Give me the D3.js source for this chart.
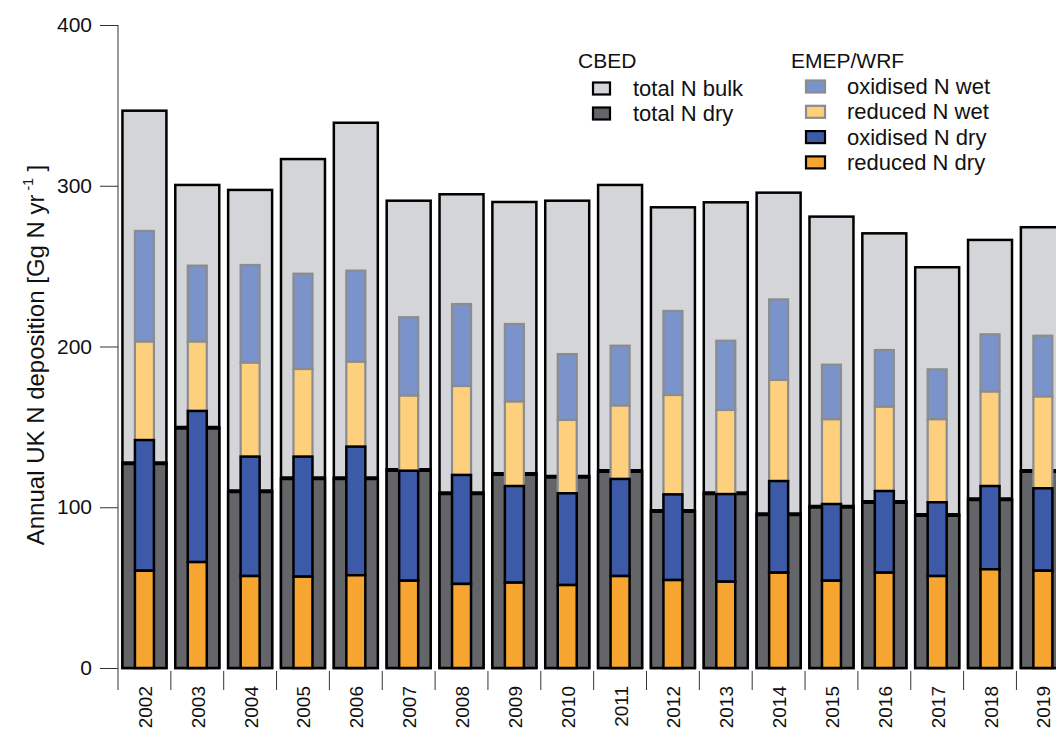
<!DOCTYPE html>
<html>
<head>
<meta charset="utf-8">
<script src="https://cdn.jsdelivr.net/npm/d3@7/dist/d3.min.js"></script>
<style>
  html, body { margin: 0; padding: 0; background: #fff; }
  svg { display: block; font-family: "Liberation Sans", Arial, sans-serif; }
</style>
</head>
<body>
<svg id="chart" width="1056" height="729"></svg>
<script>
// ---- data ----
const years = ["2002","2003","2004","2005","2006","2007","2008","2009","2010","2011","2012","2013","2014","2015","2016","2017","2018","2019"];
// CBED
const cbedBulk = [346.7,300.5,297.4,316.6,339.2,290.7,294.7,289.9,290.7,300.5,286.6,289.7,295.7,280.8,270.4,249.3,266.3,274.2];
const cbedDry  = [127.3,149.5,109.9,118.0,118.0,123.2,108.7,120.7,119.0,122.5,97.7,108.7,95.6,100.3,103.3,95.2,104.9,122.5];
// EMEP/WRF components (stacked bottom to top)
const reducedDry  = [60.5,65.9,57.2,56.8,57.7,54.3,52.3,53.1,51.6,57.2,54.7,53.7,59.3,54.3,59.3,57.2,61.4,60.5];
const oxidisedDry = [81.3,94.0,74.3,74.7,80.0,68.4,67.8,60.1,57.1,60.4,53.3,54.5,57.0,47.7,50.8,45.9,51.8,51.3];
const reducedWet  = [61.2,43.1,58.4,54.5,52.8,46.7,55.3,52.5,45.6,45.6,61.8,52.3,62.9,52.7,52.4,51.6,58.7,57.0];
const oxidisedWet = [68.9,47.3,60.8,59.3,56.7,48.8,51.0,48.3,41.0,37.3,52.3,43.1,50.1,34.0,35.3,31.1,35.7,37.9];
const yTicks = [0,100,200,300,400];
const cbedLabels = ["total N bulk","total N dry"];
const emepLabels = ["oxidised N wet","reduced N wet","oxidised N dry","reduced N dry"];

// ---- styles ----
const C = {
  bulk: "#d3d5d8", dry: "#646569",
  rDry: "#f6a630", oDry: "#3c5aa8", rWet: "#fed07e", oWet: "#7b93cb",
  wetStroke: "#8c8c8c"
};

const svg = d3.select("#chart");
const y = d3.scaleLinear().domain([0,400]).range([668,25]);
const x = d3.scaleBand().domain(years).range([118, 118 + 18*52.85]).paddingInner(0.13).paddingOuter(0.065);

const rows = years.map((yr,i) => ({
  year: yr, bulk: cbedBulk[i], dry: cbedDry[i],
  rDry: reducedDry[i], oDry: oxidisedDry[i], rWet: reducedWet[i], oWet: oxidisedWet[i]
}));

// y axis
const yAxis = d3.axisLeft(y).tickValues(yTicks).tickSize(18).tickPadding(8).tickSizeOuter(0);
const ya = svg.append("g").attr("transform","translate(118,0)").call(yAxis);
ya.select(".domain").remove();
ya.selectAll(".tick line").attr("stroke","#333").attr("stroke-width",1);
ya.selectAll(".tick text").attr("font-size",21).attr("fill","#111").attr("font-family","Liberation Sans, Arial, sans-serif");
svg.append("line").attr("x1",118).attr("x2",118).attr("y1",y(400)).attr("y2",690).attr("stroke","#333").attr("stroke-width",1);

// x ticks at band boundaries
const step = x.step();
const bounds = years.map((yr) => x(yr) - x.paddingInner()*step/2 + step);
svg.append("g").selectAll("line").data(bounds).join("line")
  .attr("x1", d=>d).attr("x2", d=>d).attr("y1", 671).attr("y2", 690)
  .attr("stroke","#333").attr("stroke-width",1);
svg.append("g").selectAll("text").data(years).join("text")
  .attr("transform", d => `translate(${x(d)+x.bandwidth()/2+7.5},686) rotate(-90)`)
  .attr("text-anchor","end").attr("font-size",19).attr("fill","#111").text(d=>d);

// y title
const yt = svg.append("text").attr("transform","translate(44,355) rotate(-90)")
  .attr("text-anchor","middle").attr("font-size",24).attr("fill","#111");
yt.append("tspan").text("Annual UK N deposition [Gg N yr");
yt.append("tspan").attr("font-size",14).attr("dy",-11).text(" -1");
yt.append("tspan").attr("dy",11).text(" ]");

// bars
const g = svg.append("g");
const bw = x.bandwidth();
// bulk
g.selectAll("rect.bulk").data(rows).join("rect").attr("class","bulk")
  .attr("x", d=>x(d.year)+1).attr("width", bw-2)
  .attr("y", d=>y(d.bulk)).attr("height", d=>y(0)-y(d.bulk))
  .attr("fill",C.bulk).attr("stroke","#000").attr("stroke-width",2.5);
// dry
g.selectAll("rect.dry").data(rows).join("rect").attr("class","dry")
  .attr("x", d=>x(d.year)+1).attr("width", bw-2)
  .attr("y", d=>y(d.dry)).attr("height", d=>y(0)-y(d.dry))
  .attr("fill",C.dry).attr("stroke","#000").attr("stroke-width",2.5);
g.selectAll("line.drytop").data(rows).join("line").attr("class","drytop")
  .attr("x1", d=>x(d.year)).attr("x2", d=>x(d.year)+bw)
  .attr("y1", d=>y(d.dry)).attr("y2", d=>y(d.dry))
  .attr("stroke","#000").attr("stroke-width",4);

// EMEP stack
const keys = ["rDry","oDry","rWet","oWet"];
const stack = d3.stack().keys(keys)(rows);
const iw = 19;
const fills = {rDry:C.rDry, oDry:C.oDry, rWet:C.rWet, oWet:C.oWet};
["oWet","rWet","oDry","rDry"].forEach(k => {
  const s = stack.find(t => t.key === k);
  const dry = k.endsWith("Dry");
  g.append("g").selectAll("rect").data(s).join("rect")
    .attr("x", d => x(d.data.year) + bw/2 - iw/2)
    .attr("width", iw)
    .attr("y", d => y(d[1])).attr("height", d => y(d[0]) - y(d[1]))
    .attr("fill", fills[k])
    .attr("stroke", dry ? "#000" : C.wetStroke)
    .attr("stroke-width", dry ? 2.5 : 2.2);
});

// legend
const lg = svg.append("g");
lg.append("text").attr("x",578).attr("y",68).attr("font-size",21).attr("fill","#111").text("CBED");
lg.append("text").attr("x",791).attr("y",68).attr("font-size",21).attr("fill","#111").text("EMEP/WRF");
const cbedFill = [C.bulk, C.dry];
cbedLabels.forEach((t,i) => {
  const yy = 88.5 + i*25;
  lg.append("rect").attr("x",593).attr("y",yy-6).attr("width",17).attr("height",12)
    .attr("fill",cbedFill[i]).attr("stroke","#000").attr("stroke-width",2.2);
  lg.append("text").attr("x",633).attr("y",yy+7.5).attr("font-size",22).attr("fill","#111").text(t);
});
const emepFill = [C.oWet, C.rWet, C.oDry, C.rDry];
const emepStroke = [C.wetStroke, C.wetStroke, "#000", "#000"];
emepLabels.forEach((t,i) => {
  const yy = 86.5 + i*25.3;
  lg.append("rect").attr("x",806).attr("y",yy-6).attr("width",19).attr("height",12)
    .attr("fill",emepFill[i]).attr("stroke",emepStroke[i]).attr("stroke-width",2.2);
  lg.append("text").attr("x",847).attr("y",yy+7.5).attr("font-size",22).attr("fill","#111").text(t);
});
</script>
</body>
</html>
